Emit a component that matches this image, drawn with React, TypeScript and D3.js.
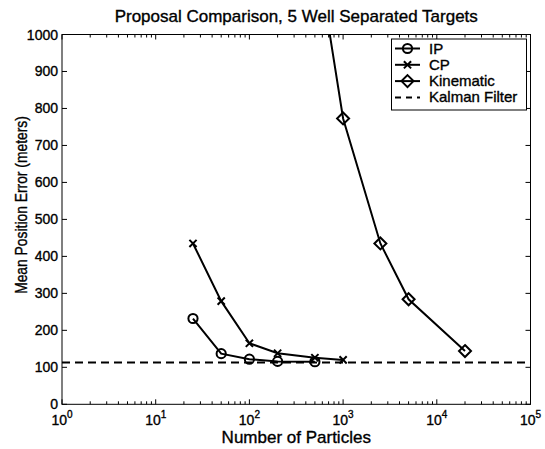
import React from "react";
import * as d3 from "d3";

const particlesIP = [25, 50, 100, 200, 500];
const errorIP = [232, 137, 122, 116, 115];
const particlesCP = [25, 50, 100, 200, 500, 1000];
const errorCP = [435, 279, 165, 138, 126, 120];
const particlesKin = [500, 1000, 2500, 5000, 20000];
const errorKin = [1255, 773, 435, 284, 144];
const kalmanError = 113;
const yTicks = [0, 100, 200, 300, 400, 500, 600, 700, 800, 900, 1000];
const xDecades = [0, 1, 2, 3, 4, 5];
const legendLabels = ["IP", "CP", "Kinematic", "Kalman Filter"];

const W = 545;
const H = 449;
const left = 62;
const right = 530.5;
const top = 34.5;
const bottom = 404.3;
const font = "'Liberation Sans', Arial, Helvetica, sans-serif";
const textStroke = { stroke: "#000", strokeWidth: 0.35 };

type Marker = "circle" | "x" | "diamond";

function MarkerShape({ kind, x, y }: { kind: Marker; x: number; y: number }) {
  if (kind === "circle") {
    return <circle cx={x} cy={y} r={4.6} fill="none" stroke="#000" strokeWidth={2} />;
  }
  if (kind === "x") {
    const s = 3.6;
    return (
      <path
        d={`M${x - s},${y - s}L${x + s},${y + s}M${x - s},${y + s}L${x + s},${y - s}`}
        stroke="#000"
        strokeWidth={2}
      />
    );
  }
  const s = 6;
  return (
    <path
      d={`M${x},${y - s}L${x + s},${y}L${x},${y + s}L${x - s},${y}Z`}
      fill="none"
      stroke="#000"
      strokeWidth={2}
    />
  );
}

export default function App() {
  const x = d3.scaleLog().domain([1, 1e5]).range([left, right]);
  const y = d3.scaleLinear().domain([0, 1000]).range([bottom, top]);

  const line = d3
    .line<[number, number]>()
    .x((d) => x(d[0]))
    .y((d) => y(d[1]));

  const series: { xs: number[]; ys: number[]; m: Marker }[] = [
    { xs: particlesIP, ys: errorIP, m: "circle" },
    { xs: particlesCP, ys: errorCP, m: "x" },
    { xs: particlesKin, ys: errorKin, m: "diamond" },
  ];

  const minorTicks: number[] = [];
  for (let d = 0; d < 5; d++) {
    for (let k = 2; k <= 9; k++) minorTicks.push(k * Math.pow(10, d));
  }

  const legendX = 391.5;
  const legendY = 39;
  const legendW = 135;
  const legendH = 71;
  const rowY = [48.5, 64.8, 81.1, 97.4];

  return (
    <svg width={W} height={H} style={{ position: "absolute", left: 0, top: 0, background: "#fff" }}>
      <rect x={0} y={0} width={W} height={H} fill="#fff" />
      <defs>
        <clipPath id="plot-area">
          <rect x={left} y={top} width={right - left} height={bottom - top} />
        </clipPath>
      </defs>

      <text x={(left + right) / 2} y={22} textAnchor="middle" fontFamily={font} fontSize={17} {...textStroke}>
        Proposal Comparison, 5 Well Separated Targets
      </text>

      {/* axis ticks */}
      {yTicks.map((t) => (
        <g key={`y${t}`}>
          <line x1={left} x2={left + 5} y1={y(t)} y2={y(t)} stroke="#000" strokeWidth={1} />
          <line x1={right} x2={right - 5} y1={y(t)} y2={y(t)} stroke="#000" strokeWidth={1} />
          <text x={left - 4} y={y(t) + 5} textAnchor="end" fontFamily={font} fontSize={14} {...textStroke}>
            {t}
          </text>
        </g>
      ))}
      {xDecades.map((d) => {
        const px = x(Math.pow(10, d));
        return (
          <g key={`x${d}`}>
            <line x1={px} x2={px} y1={bottom} y2={bottom - 5} stroke="#000" strokeWidth={1} />
            <line x1={px} x2={px} y1={top} y2={top + 5} stroke="#000" strokeWidth={1} />
            <text x={px} y={bottom + 21} textAnchor="middle" fontFamily={font} fontSize={14} {...textStroke}>
              10
              <tspan fontSize={10} dy={-7}>
                {d}
              </tspan>
            </text>
          </g>
        );
      })}
      {minorTicks.map((t) => (
        <g key={`m${t}`}>
          <line x1={x(t)} x2={x(t)} y1={bottom} y2={bottom - 3} stroke="#000" strokeWidth={1} />
          <line x1={x(t)} x2={x(t)} y1={top} y2={top + 3} stroke="#000" strokeWidth={1} />
        </g>
      ))}

      {/* data */}
      <g clipPath="url(#plot-area)">
        <line
          x1={left}
          x2={right}
          y1={y(kalmanError)}
          y2={y(kalmanError)}
          stroke="#000"
          strokeWidth={2}
          strokeDasharray="8,5"
        />
        {series.map((s, i) => {
          const pts = s.xs.map((v, j) => [v, s.ys[j]] as [number, number]);
          return (
            <g key={i}>
              <path d={line(pts) || ""} fill="none" stroke="#000" strokeWidth={2} />
              {pts.map((p, j) => (
                <MarkerShape key={j} kind={s.m} x={x(p[0])} y={y(p[1])} />
              ))}
            </g>
          );
        })}
      </g>

      <rect x={left} y={top} width={right - left} height={bottom - top} fill="none" stroke="#000" strokeWidth={1} />

      {/* legend */}
      <rect x={legendX} y={legendY} width={legendW} height={legendH} fill="#fff" stroke="#000" strokeWidth={1} />
      {legendLabels.map((lab, i) => {
        const cy = rowY[i];
        const kinds: (Marker | null)[] = ["circle", "x", "diamond", null];
        const k = kinds[i];
        return (
          <g key={lab}>
            <line
              x1={395}
              x2={420}
              y1={cy}
              y2={cy}
              stroke="#000"
              strokeWidth={2}
              strokeDasharray={k ? undefined : "6,5"}
            />
            {k && <MarkerShape kind={k} x={407.5} y={cy} />}
            <text x={429} y={cy + 5} fontFamily={font} fontSize={15} {...textStroke}>
              {lab}
            </text>
          </g>
        );
      })}

      <text x={(left + right) / 2} y={443} textAnchor="middle" fontFamily={font} fontSize={17} {...textStroke}>
        Number of Particles
      </text>
      <text
        transform={`translate(27,205) rotate(-90) scale(0.84,1)`}
        textAnchor="middle"
        fontFamily={font}
        fontSize={16.5}
        {...textStroke}
      >
        Mean Position Error (meters)
      </text>
    </svg>
  );
}
